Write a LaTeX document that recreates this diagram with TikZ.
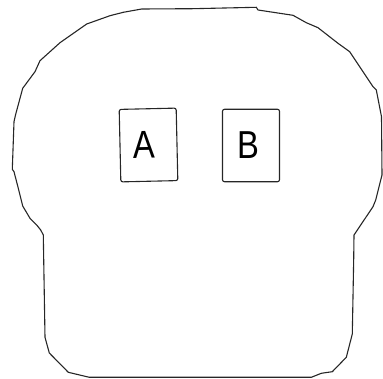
\documentclass[tikz,border=0pt]{standalone}
\usepackage{fontspec}
\newfontfamily\cardfont[FakeStretch=0.84]{Liberation Sans}

\begin{document}
\begin{tikzpicture}[x=1pt, y=-1pt, line join=round,
    outline/.style={draw=black!85, line width=1.1pt},
    card/.style={draw=black!85, line width=1.1pt, rounded corners=2pt,
      minimum width=57pt, minimum height=72.5pt, inner sep=0pt,
      font=\cardfont\fontsize{39}{39}\selectfont}]
    \useasboundingbox (0,0) rectangle (383,379);

    \draw[outline] (141.7,9) -- (193,8.7) -- (256.3,7.3) -- (258,10) -- (293,15.3)
      -- (306.3,22.7) -- (318,27.7) -- (338,43.3) -- (349.7,51.7) -- (373,86.7)
      -- (376.3,90) -- (381.5,116.7) -- (382,175) -- (375.7,200) -- (373,206.7)
      -- (354,235) -- (353.7,259) -- (352.3,334) -- (346.3,357.3) -- (332.3,371.7)
      -- (321.3,373.3) -- (311.3,377.3) -- (89.3,377.3) -- (68.3,372.3) -- (49.3,353)
      -- (45,337.3) -- (43.3,235) -- (40.7,230) -- (36.7,225) -- (30,218.3)
      -- (22.7,206) -- (18.3,188.3) -- (14,171.7) -- (12.3,169.3) -- (14,121.7)
      -- (15.5,115) -- (22.7,88.3) -- (35,71.7) -- (40,60.7) -- (60,42.7)
      -- (86.7,24) -- (110,15.7) -- (123.3,12.3) -- cycle;

    \node[card, rotate=1.3] (a) at (148.5,145) {\kern-8pt A};
    \node[card] (b) at (251,145.5) {\kern-6pt B};
\end{tikzpicture}
\end{document}
